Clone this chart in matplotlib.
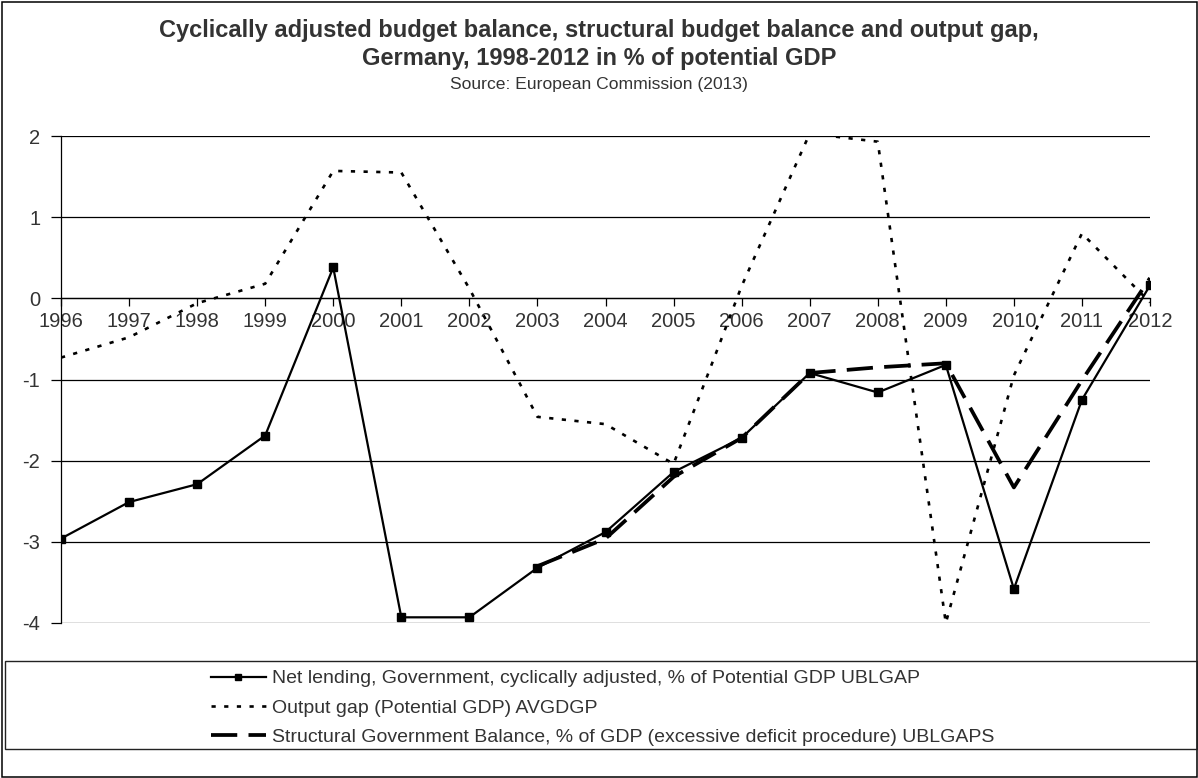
import numpy as np
import matplotlib
matplotlib.use("Agg")
from matplotlib import pyplot as plt
from matplotlib.patches import Rectangle
from matplotlib.lines import Line2D

plt.rcParams['font.family'] = ['Liberation Sans', 'DejaVu Sans']
plt.rcParams['axes.unicode_minus'] = False

years = list(range(1996, 2013))
net_lending = [-2.96, -2.51, -2.29, -1.69, 0.38, -3.93, -3.93, -3.32, -2.88,
               -2.14, -1.72, -0.92, -1.16, -0.82, -3.58, -1.25, 0.16]
output_gap = [-0.73, -0.48, -0.06, 0.18, 1.57, 1.55, 0.12, -1.46, -1.55,
              -2.04, 0.15, 2.03, 1.93, -4.0, -0.95, 0.80, -0.05]
struct_years = list(range(2003, 2013))
struct_balance = [-3.30, -2.96, -2.20, -1.72, -0.92, -0.85, -0.80, -2.33, -1.01, 0.25]

labels = ["Net lending, Government, cyclically adjusted, % of Potential GDP UBLGAP",
          "Output gap (Potential GDP) AVGDGP",
          "Structural Government Balance, % of GDP (excessive deficit procedure) UBLGAPS"]

W, H = 1198, 778
fig = plt.figure(figsize=(W / 100, H / 100), dpi=100)
txt = '#333333'

# outer frame and legend box
fig.patches.append(Rectangle((1.5 / W, 1.5 / H), 1 - 3 / W, 1 - 3 / H, transform=fig.transFigure,
                             fill=False, edgecolor='black', linewidth=1.1))
fig.patches.append(Rectangle((5 / W, 1 - 749 / H), 1 - 6.5 / W, 88 / H, transform=fig.transFigure,
                             fill=False, edgecolor='#222222', linewidth=1.0))

ax = fig.add_axes([61 / W, 1 - 623 / H, (1150 - 61) / W, (623 - 136) / H])

dots = (0, (1.6, 3.2))
dashes = (0, (7, 3))
ax.plot(years, net_lending, color='black', linewidth=1.6, marker='s', markersize=5.5)
ax.plot(years, output_gap, color='black', linewidth=1.9, linestyle=dots)
ax.plot(struct_years, struct_balance, color='black', linewidth=2.7, linestyle=dashes)

ax.set_xlim(1996, 2012)
ax.set_ylim(-4, 2)
ax.set_yticks(range(-4, 3))
ax.set_xticks(years)
ax.yaxis.grid(True, color='black', linewidth=0.9)
ax.set_axisbelow(True)
for s in ['top', 'right']:
    ax.spines[s].set_visible(False)
ax.spines['bottom'].set_position(('data', 0))
ax.spines['bottom'].set_linewidth(0.9)
ax.spines['left'].set_linewidth(0.9)
ax.tick_params(axis='x', direction='out', length=6, width=0.9, pad=4, labelsize=14.5, labelcolor=txt)
ax.tick_params(axis='y', direction='out', length=7, width=0.9, pad=8, labelsize=14.5, labelcolor=txt)

fig.text(0.5, 1 - 31 / H, "Cyclically adjusted budget balance, structural budget balance and output gap,",
         ha='center', va='center', fontsize=17, fontweight='bold', color=txt)
fig.text(0.5, 1 - 58 / H, "Germany, 1998-2012 in % of potential GDP",
         ha='center', va='center', fontsize=17, fontweight='bold', color=txt)
fig.text(0.5, 1 - 85 / H, "Source: European Commission (2013)",
         ha='center', va='center', fontsize=12.6, color=txt)

handles = [Line2D([], [], color='black', linewidth=1.6, marker='s', markersize=5),
           Line2D([], [], color='black', linewidth=1.9, linestyle=dots),
           Line2D([], [], color='black', linewidth=2.7, linestyle=dashes)]
leg = fig.legend(handles, labels, loc='upper left', bbox_to_anchor=(201 / W, 1 - 660 / H),
                 frameon=False, fontsize=14, handlelength=2.85, handletextpad=0.3,
                 labelspacing=0.6, borderpad=0)
for t in leg.get_texts():
    t.set_color(txt)

fig.savefig("out.png", dpi=100)
